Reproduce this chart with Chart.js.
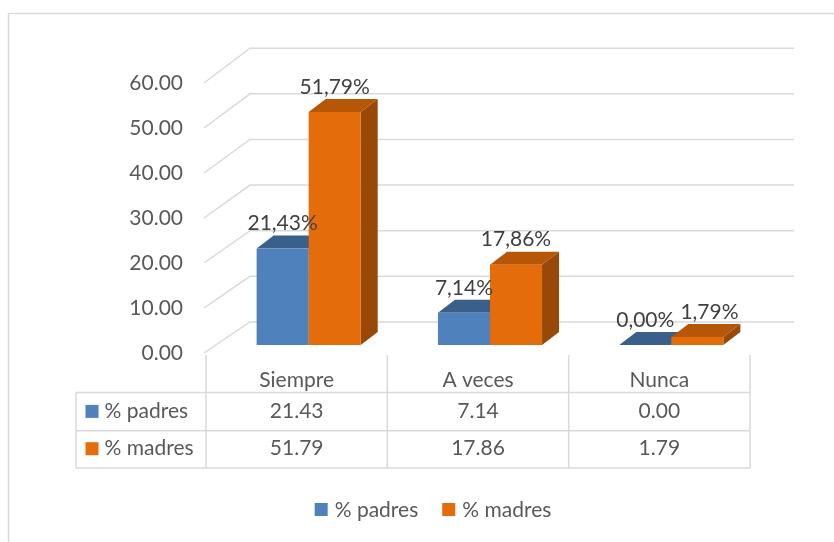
<!DOCTYPE html>
<html>
<head>
<meta charset="utf-8">
<script src="https://cdn.jsdelivr.net/npm/chart.js@4.4.1/dist/chart.umd.min.js"></script>
<style>
  html, body { margin: 0; padding: 0; background: #fff; }
  #wrap { width: 834px; height: 542px; }
</style>
</head>
<body>
<div id="wrap"><canvas id="chart" width="834" height="542"></canvas></div>
<script>
const categories = ['Siempre', 'A veces', 'Nunca'];
const padres = [21.43, 7.14, 0.00];
const madres = [51.79, 17.86, 1.79];
const seriesNames = ['% padres', '% madres'];
const yTicks = [0, 10, 20, 30, 40, 50, 60];

const FONT = "Lato, 'Open Sans', sans-serif";
const FSIZE = 21;
const TEXT = '#595959';
const GRID = '#d9d9d9';

const palette = [
  { front: '#4F81BD', top: '#3A5F8B', side: '#2E4D74' },
  { front: '#E46C0A', top: '#B65708', side: '#984807' },
];

// 3d offsets: bar plane vs axis plane, bar depth, back wall
const depth = { barX: 12, barY: -8, dx: 17, dy: -13, wallX: 44, wallY: -31 };

const fmtPct = (v) => v.toFixed(2).replace('.', ',') + '%';

const poly = (ctx, pts, color) => {
  ctx.beginPath();
  ctx.moveTo(pts[0][0], pts[0][1]);
  for (let i = 1; i < pts.length; i++) ctx.lineTo(pts[i][0], pts[i][1]);
  ctx.closePath();
  ctx.fillStyle = color;
  ctx.fill();
};

const bars3d = {
  id: 'bars3d',
  beforeDraw(chart) {
    const { ctx } = chart;
    ctx.save();
    ctx.fillStyle = '#fff';
    ctx.fillRect(0, 0, chart.width, chart.height);
    ctx.strokeStyle = GRID;
    ctx.lineWidth = 1.5;
    ctx.strokeRect(8.5, 13.5, chart.width + 20, chart.height + 20);
    ctx.restore();
  },
  beforeDatasetsDraw(chart) {
    const { ctx, chartArea: area, scales: { y } } = chart;
    ctx.save();

    // back wall grid with slanted side
    ctx.strokeStyle = GRID;
    ctx.lineWidth = 1.5;
    yTicks.forEach((t) => {
      const yf = y.getPixelForValue(t);
      const yb = area.bottom + depth.wallY - (area.bottom - yf) * 1.014;
      ctx.beginPath();
      ctx.moveTo(area.left - 2, yf);
      ctx.lineTo(area.left + depth.wallX, yb);
      ctx.lineTo(area.right + depth.wallX, yb);
      ctx.stroke();
    });

    const labels = [];
    categories.forEach((c, i) => {
      chart.data.datasets.forEach((ds, d) => {
        const el = chart.getDatasetMeta(d).data[i];
        const { x, y: top, base, width } = el.getProps(['x', 'y', 'base', 'width'], true);
        const col = palette[d];
        const x0 = x - width / 2 + depth.barX;
        const x1 = x + width / 2 + depth.barX;
        const yT = top + depth.barY;
        const yB = base + depth.barY;
        const { dx, dy } = depth;
        if (yB - yT > 0.5) {
          poly(ctx, [[x1, yT], [x1 + dx, yT + dy], [x1 + dx, yB + dy], [x1, yB]], col.side);
        }
        poly(ctx, [[x0, yT], [x0 + dx, yT + dy], [x1 + dx, yT + dy], [x1, yT]], col.top);
        if (yB - yT > 0.5) {
          ctx.fillStyle = col.front;
          ctx.fillRect(x0, yT, x1 - x0, yB - yT);
        }
        labels.push({ text: fmtPct(ds.data[i]), x: (x0 + x1) / 2, y: yT - 25 });
      });
    });

    ctx.font = `${FSIZE}px ${FONT}`;
    ctx.fillStyle = '#404040';
    ctx.textAlign = 'center';
    ctx.textBaseline = 'middle';
    let prevRight = -Infinity;
    let prevY = null;
    labels.forEach((l) => {
      const w = ctx.measureText(l.text).width;
      let cx = l.x;
      if (prevY !== null && Math.abs(prevY - l.y) < 20 && cx - w / 2 < prevRight + 6) {
        cx = prevRight + 6 + w / 2;
      }
      ctx.fillText(l.text, cx, l.y);
      prevRight = cx + w / 2;
      prevY = l.y;
    });

    ctx.restore();
    return false;
  },
  afterDraw(chart) {
    const { ctx, chartArea: area } = chart;
    const n = categories.length;
    const cw = (area.right - area.left) / n;
    const legL = area.left - 130;
    const rows = [area.bottom + 39.5, area.bottom + 77.7, area.bottom + 115];
    ctx.save();
    ctx.strokeStyle = GRID;
    ctx.lineWidth = 1.5;
    rows.forEach((ry) => {
      ctx.beginPath();
      ctx.moveTo(legL, ry);
      ctx.lineTo(area.right, ry);
      ctx.stroke();
    });
    ctx.beginPath();
    ctx.moveTo(legL, rows[0]);
    ctx.lineTo(legL, rows[2]);
    for (let k = 0; k <= n; k++) {
      const vx = area.left + k * cw;
      ctx.moveTo(vx, area.bottom + 2);
      ctx.lineTo(vx, rows[2]);
    }
    ctx.stroke();

    ctx.font = `${FSIZE}px ${FONT}`;
    ctx.fillStyle = TEXT;
    ctx.textBaseline = 'middle';
    ctx.textAlign = 'center';
    categories.forEach((c, i) => {
      ctx.fillText(c, area.left + (i + 0.5) * cw, area.bottom + 27);
    });
    const rowMid = [area.bottom + 58.4, area.bottom + 95.7];
    chart.data.datasets.forEach((ds, d) => {
      ctx.textAlign = 'center';
      ctx.fillStyle = TEXT;
      ds.data.forEach((v, i) => {
        ctx.fillText(v.toFixed(2), area.left + (i + 0.5) * cw, rowMid[d]);
      });
      ctx.fillStyle = palette[d].front;
      ctx.fillRect(legL + 9.5, rowMid[d] - 6.5, 13, 13);
      ctx.fillStyle = TEXT;
      ctx.textAlign = 'left';
      ctx.fillText(ds.label, legL + 28.5, rowMid[d]);
    });

    // bottom legend
    const box = 13, gap = 7, spacing = 24;
    const widths = seriesNames.map((s) => ctx.measureText(s).width);
    const total = widths.reduce((a, b) => a + b, 0) + 2 * (box + gap) + spacing;
    let lx = 433 - total / 2;
    const ly = 510;
    seriesNames.forEach((s, d) => {
      ctx.fillStyle = palette[d].front;
      ctx.fillRect(lx, ly - 7, box, box);
      ctx.fillStyle = TEXT;
      ctx.textAlign = 'left';
      ctx.fillText(s, lx + box + gap, ly);
      lx += box + gap + widths[d] + spacing;
    });
    ctx.restore();
  },
};

new Chart(document.getElementById('chart'), {
  type: 'bar',
  data: {
    labels: categories,
    datasets: [
      { label: seriesNames[0], data: padres, backgroundColor: palette[0].front },
      { label: seriesNames[1], data: madres, backgroundColor: palette[1].front },
    ],
  },
  options: {
    responsive: false,
    animation: false,
    categoryPercentage: 0.574,
    barPercentage: 1.0,
    layout: { padding: { top: 83, bottom: 189, left: 0, right: 84 } },
    plugins: {
      legend: { display: false },
      tooltip: { enabled: false },
    },
    scales: {
      x: { display: false, offset: true },
      y: {
        min: 0,
        max: 60,
        afterFit: (s) => { s.width = 206; },
        afterBuildTicks: (s) => { s.ticks = yTicks.map((v) => ({ value: v })); },
        grid: { display: false, drawTicks: false },
        border: { display: false },
        ticks: {
          padding: 23,
          color: TEXT,
          font: { family: FONT, size: FSIZE },
          callback: (v) => Number(v).toFixed(2),
        },
      },
    },
  },
  plugins: [bars3d],
});
</script>
</body>
</html>
